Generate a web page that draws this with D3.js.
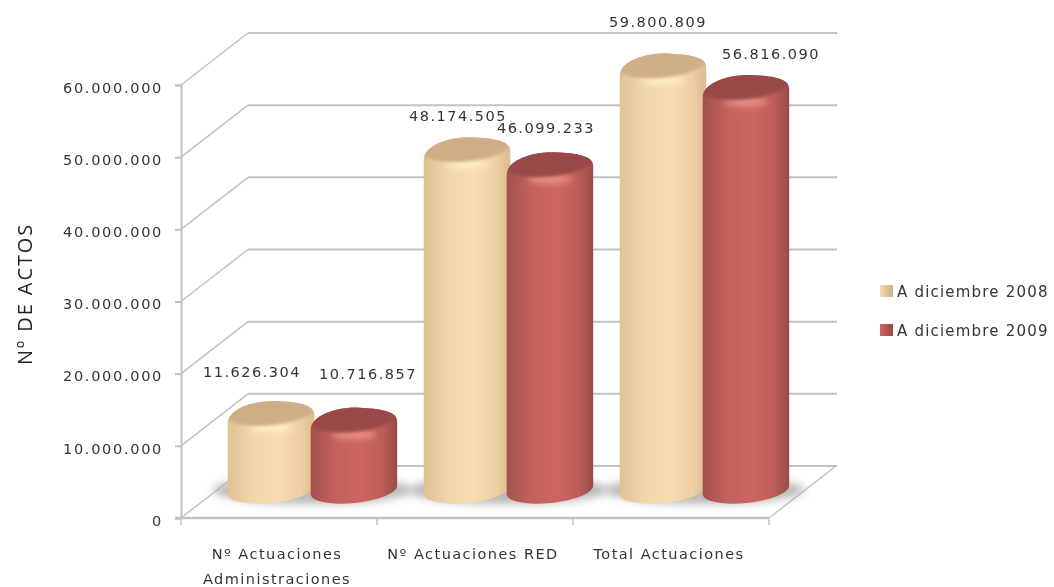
<!DOCTYPE html>
<html>
<head>
<meta charset="utf-8">
<script src="https://cdn.jsdelivr.net/npm/d3@7"></script>
<style>
    html, body { margin: 0; padding: 0; background: #fff; }
    svg { display: block; filter: blur(0.6px); }
    text { font-family: "DejaVu Sans", sans-serif; fill: #33333b; }
    .axis text { font-size: 14.5px; letter-spacing: 1.7px; }
    .cat { font-size: 14.5px; letter-spacing: 1.45px; }
    .val { font-size: 14.5px; letter-spacing: 1.5px; }
    .leg { font-size: 15px; letter-spacing: 1.2px; }
    .ytitle { font-family: "Open Sans", sans-serif; font-size: 20px; letter-spacing: 1.9px; fill: #222; }
</style>
</head>
<body>
<div id="chart"></div>
<script>
// Chart values
var categories = ["Nº Actuaciones Administraciones", "Nº Actuaciones RED", "Total Actuaciones"];
var seriesNames = ["A diciembre 2008", "A diciembre 2009"];
var values2008 = [11626304, 48174505, 59800809];
var values2009 = [10716857, 46099233, 56816090];
var yTicks = [0, 10000000, 20000000, 30000000, 40000000, 50000000, 60000000];
var yTitle = "Nº DE ACTOS";

var width = 1054, height = 587;
var svg = d3.select("#chart").append("svg").attr("width", width).attr("height", height);
var defs = svg.append("defs");

// Front plane scales, the back wall is the same plane pushed by depthX / depthY
var depthX = 67, depthY = 52;
var y = d3.scaleLinear().domain([0, 60000000]).range([518, 85]);
var x0 = d3.scaleBand().domain(categories).range([181, 769]);
var x1 = d3.scaleBand().domain([0, 1]).range([0, 170]).paddingInner(-0.05);

var locale = d3.formatLocale({decimal: ",", thousands: ".", grouping: [3], currency: ["", ""]});
var fmt = locale.format(",d");

var tan = {left: "#dfc296", mid: "#f6dcae", right: "#dcbb90", top: "#cfae87", glow: "#fdeec8"};
var red = {left: "#a4514e", mid: "#cd6662", right: "#994b48", top: "#984946", glow: "#ea938c"};
var colors = [tan, red];

colors.forEach(function (c, i) {
    var g = defs.append("linearGradient").attr("id", "body" + i);
    g.append("stop").attr("offset", "0%").attr("stop-color", c.left);
    g.append("stop").attr("offset", "28%").attr("stop-color", d3.interpolateRgb(c.left, c.mid)(0.75));
    g.append("stop").attr("offset", "58%").attr("stop-color", c.mid);
    g.append("stop").attr("offset", "84%").attr("stop-color", d3.interpolateRgb(c.right, c.mid)(0.65));
    g.append("stop").attr("offset", "100%").attr("stop-color", c.right);

    var sw = defs.append("linearGradient").attr("id", "swatch" + i);
    sw.append("stop").attr("offset", "0%").attr("stop-color", c.mid);
    sw.append("stop").attr("offset", "100%").attr("stop-color", c.top);
});
defs.append("filter").attr("id", "soft2").attr("x", "-50%").attr("y", "-100%").attr("width", "200%").attr("height", "300%")
    .append("feGaussianBlur").attr("stdDeviation", 3);
defs.append("filter").attr("id", "soft3").attr("x", "-20%").attr("y", "-100%").attr("width", "140%").attr("height", "300%")
    .append("feGaussianBlur").attr("stdDeviation", 4.5);
defs.append("filter").attr("id", "soft1").attr("x", "-20%").attr("y", "-50%").attr("width", "140%").attr("height", "200%")
    .append("feGaussianBlur").attr("stdDeviation", 1.6);

var lineColor = "#c2c2c2";

// Gridlines on the back wall
svg.append("g").selectAll("line").data(yTicks).enter().append("line")
    .attr("x1", 181 + depthX)
    .attr("x2", 769 + depthX + 1)
    .attr("y1", function (d) { return y(d) - depthY; })
    .attr("y2", function (d) { return y(d) - depthY; })
    .attr("stroke", lineColor).attr("stroke-width", 2);

// Diagonals on the side wall
svg.append("g").selectAll("line").data(yTicks).enter().append("line")
    .attr("x1", 181)
    .attr("x2", 181 + depthX)
    .attr("y1", function (d) { return y(d); })
    .attr("y2", function (d) { return y(d) - depthY; })
    .attr("stroke", lineColor).attr("stroke-width", 1.5);

// Right edge of the floor
svg.append("line")
    .attr("x1", 769).attr("y1", y(0))
    .attr("x2", 769 + depthX).attr("y2", y(0) - depthY)
    .attr("stroke", lineColor).attr("stroke-width", 1.5);

// Axes
var yAxis = d3.axisLeft(y).tickValues(yTicks).tickSize(6).tickPadding(12).tickFormat(fmt);
var yG = svg.append("g").attr("class", "axis").attr("transform", "translate(181,0)").call(yAxis);
yG.select(".domain").attr("stroke", lineColor).attr("stroke-width", 2);
yG.selectAll("line").attr("stroke", lineColor).attr("stroke-width", 2);
yG.selectAll("text").attr("dy", "0.5em");

var xG = svg.append("g").attr("transform", "translate(0," + y(0) + ")");
xG.append("line").attr("x1", 175).attr("x2", 769).attr("stroke", lineColor).attr("stroke-width", 2.5);
xG.selectAll(".tk").data(d3.range(0, categories.length + 1)).enter().append("line")
    .attr("x1", function (d) { return 181 + d * x0.bandwidth(); })
    .attr("x2", function (d) { return 181 + d * x0.bandwidth(); })
    .attr("y1", 0).attr("y2", 7)
    .attr("stroke", lineColor).attr("stroke-width", 1.5);

// Bars sit halfway back on the floor
var offX = depthX / 2, rx = 43.5, ry = 13, tilt = -6;
var bottomY = y(0) - 28;
var topShift = 20;
var tx = rx * Math.cos(tilt * Math.PI / 180), ty = rx * Math.sin(tilt * Math.PI / 180);

function barX(cat, s) {
    return x0(cat) + offX + x1(s) + 13;
}

// Shadows first so the bars of a group cover them
var shadowG = svg.append("g");
categories.forEach(function (cat) {
    shadowG.append("ellipse")
        .attr("cx", barX(cat, 0) + 85)
        .attr("cy", bottomY)
        .attr("rx", 100).attr("ry", 14)
        .attr("fill", "#a8a8a8").attr("opacity", 0.8)
        .attr("filter", "url(#soft3)");
});

// label nudges relative to the top of each bar, they were moved by hand in the original
var nudge2008 = [[-19, -28], [-9, -20], [-5, -30]];
var nudge2009 = [[14, -33], [-4, -23], [25, -20]];

var seriesValues = [values2008, values2009];
var nudges = [nudge2008, nudge2009];

[0, 1].forEach(function (s) {
    var g = svg.append("g");
    categories.forEach(function (cat, i) {
        var v = seriesValues[s][i];
        var cx = barX(cat, s) + rx;
        var cyTop = y(v) - topShift;
        var c = colors[s];
        var clipId = "clip" + s + "_" + i;

        // rounded shoulders on top, plain tilted arc at the foot
        var lx = cx - tx, rxx = cx + tx;
        var bodyPath = "M" + lx + "," + (cyTop - ty + 5)
            + " L" + lx + "," + (bottomY - ty)
            + " A" + rx + "," + ry + " " + tilt + " 0 0 " + rxx + "," + (bottomY + ty)
            + " L" + rxx + "," + (cyTop + ty + 5)
            + " C" + rxx + "," + (cyTop + ty - 5) + " " + (cx + tx * 0.6) + "," + (cyTop - ry + 1)
            + " " + (cx + 6) + "," + (cyTop - ry)
            + " C" + (cx - tx * 0.5) + "," + (cyTop - ry - 1) + " " + lx + "," + (cyTop - ty - 8)
            + " " + lx + "," + (cyTop - ty + 5) + " Z";

        var clip = defs.append("clipPath").attr("id", clipId);
        clip.append("path").attr("d", bodyPath);

        g.append("path").attr("d", bodyPath).attr("fill", "url(#body" + s + ")");

        var inner = g.append("g").attr("clip-path", "url(#" + clipId + ")");

        // rim highlight under the top face
        inner.append("ellipse")
            .attr("cx", cx).attr("cy", cyTop + ry + 1)
            .attr("rx", 22).attr("ry", 4)
            .attr("fill", c.glow)
            .attr("filter", "url(#soft2)");

        // top face
        inner.append("ellipse")
            .attr("cx", cx).attr("cy", cyTop - 2)
            .attr("rx", rx + 1).attr("ry", ry)
            .attr("transform", "rotate(" + tilt + " " + cx + " " + cyTop + ")")
            .attr("fill", c.top)
            .attr("filter", "url(#soft1)");

        var n = nudges[s][i];
        svg.append("text")
            .attr("class", "val")
            .attr("x", cx + n[0])
            .attr("y", cyTop - ry + n[1])
            .attr("text-anchor", "middle")
            .attr("dominant-baseline", "middle")
            .text(fmt(v));
    });
});

// Category labels, the first one wraps
var catLabels = svg.append("g");
categories.forEach(function (cat) {
    var words = cat === categories[0] ? ["Nº Actuaciones", "Administraciones"] : [cat];
    words.forEach(function (w, j) {
        catLabels.append("text")
            .attr("class", "cat")
            .attr("x", x0(cat) + x0.bandwidth() / 2 - 2)
            .attr("y", 559 + j * 25)
            .attr("text-anchor", "middle")
            .text(w);
    });
});

// Axis title
svg.append("text")
    .attr("class", "ytitle")
    .attr("transform", "translate(32,294) rotate(-90)")
    .attr("text-anchor", "middle")
    .text(yTitle);

// Legend
seriesNames.forEach(function (name, i) {
    var ly = 291 + i * 39;
    svg.append("rect")
        .attr("x", 880).attr("y", ly - 6)
        .attr("width", 13).attr("height", 12)
        .attr("fill", "url(#swatch" + i + ")");
    svg.append("text")
        .attr("class", "leg")
        .attr("x", 897).attr("y", ly + 1)
        .attr("dominant-baseline", "middle")
        .text(name);
});
</script>
</body>
</html>
